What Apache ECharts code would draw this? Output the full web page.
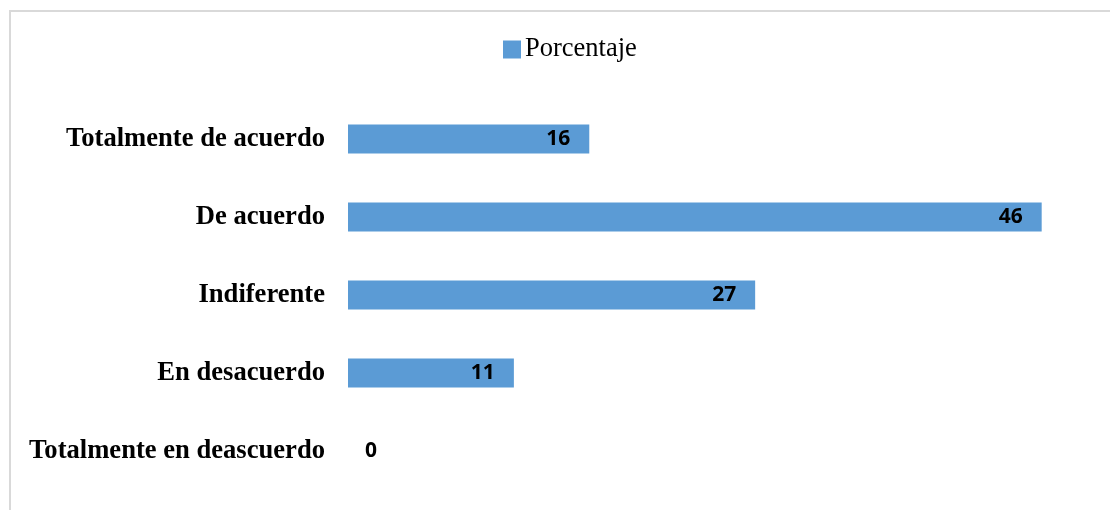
<!DOCTYPE html>
<html>
<head>
<meta charset="utf-8">
<style>
  html, body { margin: 0; padding: 0; background: #ffffff; }
  #chart { width: 1110px; height: 510px; }
</style>
<script src="https://cdn.jsdelivr.net/npm/echarts@6/dist/echarts.min.js"></script>
</head>
<body>
<div id="chart"></div>
<script>
// Survey responses, listed top to bottom
const categories = [
  'Totalmente de acuerdo',
  'De acuerdo',
  'Indiferente',
  'En desacuerdo',
  'Totalmente en deascuerdo'
];
const percentages = [16, 46, 27, 11, 0];
const seriesName = 'Porcentaje';

const barColor = '#5B9BD5';
const serifFont = '"Liberation Serif", "Times New Roman", serif';
const sansFont = '"Open Sans", "Liberation Sans", sans-serif';

const chart = echarts.init(document.getElementById('chart'), null, { renderer: 'canvas' });

const valueLabel = {
  show: true,
  position: 'insideRight',
  distance: 19,
  color: '#000000',
  fontFamily: sansFont,
  fontWeight: 'bold',
  fontSize: 21
};

chart.setOption({
  animation: false,
  backgroundColor: '#ffffff',
  graphic: [{
    type: 'rect',
    silent: true,
    shape: { x: 10, y: 11, width: 1200, height: 600 },
    style: { fill: 'none', stroke: '#d9d9d9', lineWidth: 2 }
  }],
  legend: {
    data: [seriesName],
    left: 503,
    top: 36,
    padding: 0,
    icon: 'rect',
    itemWidth: 18,
    itemHeight: 18,
    itemGap: 10,
    textStyle: { fontFamily: serifFont, fontSize: 26.5, color: '#000000', padding: [0, 0, 0, -1] }
  },
  grid: { left: 348, right: 8, top: 100, bottom: 20, containLabel: false },
  xAxis: {
    type: 'value',
    min: 0,
    max: 50,
    show: false,
    splitLine: { show: false }
  },
  yAxis: {
    type: 'category',
    data: categories,
    inverse: true,
    axisLine: { show: false },
    axisTick: { show: false },
    axisLabel: {
      margin: 23,
      color: '#000000',
      fontFamily: serifFont,
      fontWeight: 'bold',
      fontSize: 26.6
    }
  },
  series: [{
    name: seriesName,
    type: 'bar',
    barWidth: 29,
    itemStyle: { color: barColor },
    data: percentages.map(v => v === 0
      ? { value: v, label: Object.assign({}, valueLabel, { position: 'right', distance: 17 }) }
      : { value: v }),
    label: valueLabel
  }]
});
</script>
</body>
</html>
